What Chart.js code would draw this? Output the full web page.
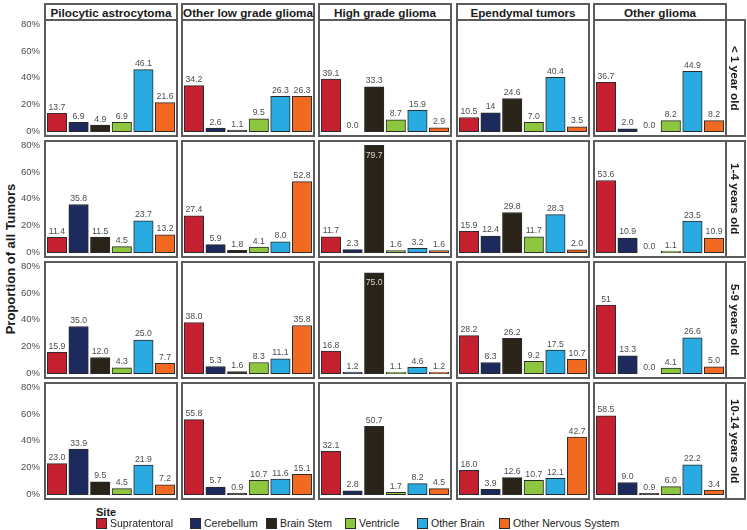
<!DOCTYPE html>
<html>
<head>
<meta charset="utf-8">
<script src="https://cdn.jsdelivr.net/npm/chart.js@4.4.0/dist/chart.umd.min.js"></script>
<style>
  body { margin: 0; background: #fff; font-family: "Liberation Sans", Arial, sans-serif; }
  #wrap { position: relative; width: 747px; height: 530px; overflow: hidden; }
  canvas { position: absolute; }
  .box { position: absolute; box-sizing: border-box; border: 2px solid #5b5b5b; }
  .head { display: flex; align-items: center; justify-content: center; font-weight: bold; font-size: 11.7px; color: #1a1a1a; background: #fff; }
  .side { display: flex; align-items: center; justify-content: center; font-weight: bold; font-size: 11.7px; color: #1a1a1a; writing-mode: vertical-rl; }
  #ytitle { position: absolute; left: 10px; top: 259px; transform: translate(-50%, -50%) rotate(-90deg); font-weight: bold; font-size: 13px; white-space: nowrap; color: #1a1a1a; }
  #legTitle { position: absolute; left: 96px; top: 506px; font-weight: bold; font-size: 11px; color: #1a1a1a; }
  .leg { position: absolute; top: 518px; font-size: 10.5px; color: #222; white-space: nowrap; line-height: 11px; }
  .leg span.sw { display: inline-block; width: 11px; height: 11px; box-sizing: border-box; border: 1px solid #2b2b2b; vertical-align: top; margin-right: 3px; }
</style>
</head>
<body>
<div id="wrap">
  <div id="ytitle">Proportion of all Tumors</div>
  <div id="legTitle">Site</div>
</div>
<script>
// categories
const sites = ["Supratentoral", "Cerebellum", "Brain Stem", "Ventricle", "Other Brain", "Other Nervous System"];
const siteColors = ["#c4202f", "#1c2a5e", "#2a2318", "#8dc63f", "#29abe2", "#f26a22"];
const tumorTypes = ["Pilocytic astrocytoma", "Other low grade glioma", "High grade glioma", "Ependymal tumors", "Other glioma"];
const ageGroups = ["< 1 year old", "1-4 years old", "5-9 years old", "10-14 years old"];
const yTicks = [0, 20, 40, 60, 80];

// printed percentages, one row per age group, one entry per site
const pilocytic = [
  ["13.7", "6.9", "4.9", "6.9", "46.1", "21.6"],
  ["11.4", "35.8", "11.5", "4.5", "23.7", "13.2"],
  ["15.9", "35.0", "12.0", "4.3", "25.0", "7.7"],
  ["23.0", "33.9", "9.5", "4.5", "21.9", "7.2"]
];
const otherLowGrade = [
  ["34.2", "2.6", "1.1", "9.5", "26.3", "26.3"],
  ["27.4", "5.9", "1.8", "4.1", "8.0", "52.8"],
  ["38.0", "5.3", "1.6", "8.3", "11.1", "35.8"],
  ["55.8", "5.7", "0.9", "10.7", "11.6", "15.1"]
];
const highGrade = [
  ["39.1", "0.0", "33.3", "8.7", "15.9", "2.9"],
  ["11.7", "2.3", "79.7", "1.6", "3.2", "1.6"],
  ["16.8", "1.2", "75.0", "1.1", "4.6", "1.2"],
  ["32.1", "2.8", "50.7", "1.7", "8.2", "4.5"]
];
const ependymal = [
  ["10.5", "14", "24.6", "7.0", "40.4", "3.5"],
  ["15.9", "12.4", "29.8", "11.7", "28.3", "2.0"],
  ["28.2", "8.3", "26.2", "9.2", "17.5", "10.7"],
  ["18.0", "3.9", "12.6", "10.7", "12.1", "42.7"]
];
const otherGlioma = [
  ["36.7", "2.0", "0.0", "8.2", "44.9", "8.2"],
  ["53.6", "10.9", "0.0", "1.1", "23.5", "10.9"],
  ["51", "13.3", "0.0", "4.1", "26.6", "5.0"],
  ["58.5", "9.0", "0.9", "6.0", "22.2", "3.4"]
];
const panels = [pilocytic, otherLowGrade, highGrade, ependymal, otherGlioma];

// layout
const colLeft = [44, 181, 318, 456, 593];
const colWidth = 134;
const rowTop = [19, 140, 261, 382];
const rowHeight = 118;

Chart.defaults.font.family = "'Liberation Sans', Arial, sans-serif";

const wrap = document.getElementById("wrap");

function addBox(cls, left, top, width, height, text) {
  const d = document.createElement("div");
  d.className = "box " + cls;
  d.style.left = left + "px";
  d.style.top = top + "px";
  d.style.width = width + "px";
  d.style.height = height + "px";
  if (text) d.textContent = text;
  wrap.appendChild(d);
  return d;
}

// labels above bars (inside the bar when it reaches the top)
const valueLabels = {
  id: "valueLabels",
  afterDatasetsDraw(chart) {
    const ctx = chart.ctx;
    const ds = chart.data.datasets[0];
    ctx.save();
    ctx.font = "8.7px 'Liberation Sans'";
    ctx.textAlign = "center";
    chart.getDatasetMeta(0).data.forEach((bar, i) => {
      const v = ds.data[i].y;
      if (v > 70) {
        ctx.fillStyle = "#d8d8d8";
        ctx.textBaseline = "top";
        ctx.fillText(ds.texts[i], bar.x, bar.y + 6);
      } else {
        ctx.fillStyle = "#4d4d4d";
        ctx.textBaseline = "alphabetic";
        ctx.fillText(ds.texts[i], bar.x, bar.y - 3.5);
      }
    });
    ctx.restore();
  }
};

panels.forEach((panel, c) => {
  addBox("head", colLeft[c], 3, colWidth, 18, tumorTypes[c]);
  panel.forEach((row, r) => {
    const cv = document.createElement("canvas");
    const first = c === 0;
    const left = first ? 0 : colLeft[c];
    const width = first ? colLeft[0] + colWidth : colWidth;
    cv.width = width;
    cv.height = rowHeight;
    cv.style.left = left + "px";
    cv.style.top = rowTop[r] + "px";
    wrap.appendChild(cv);

    new Chart(cv, {
      type: "bar",
      data: {
        datasets: [{
          data: row.map((t, i) => ({ x: i + 1, y: parseFloat(t) })),
          texts: row,
          backgroundColor: siteColors,
          borderColor: "#2b2b2b",
          borderWidth: 1,
          borderSkipped: false,
          barThickness: colWidth / 6.2 * 0.9
        }]
      },
      options: {
        responsive: false,
        animation: false,
        events: [],
        layout: { padding: 0 },
        plugins: { legend: { display: false }, tooltip: { enabled: false } },
        scales: {
          x: { type: "linear", min: 0.4, max: 6.6, offset: false, display: false },
          y: {
            min: -3.98,
            max: 83.7,
            display: first,
            grid: { display: false, drawTicks: false },
            border: { display: false },
            ticks: { padding: 4, color: "#4d4d4d", font: { size: 9.5 }, callback: v => v + "%" },
            afterBuildTicks: s => { s.ticks = yTicks.map(v => ({ value: v })); },
            afterFit: s => {
              if (!first) return;
              s.width = colLeft[0];
              s.paddingTop = 0;
              s.paddingBottom = 0;
            }
          }
        }
      },
      plugins: [valueLabels]
    });

    addBox("frame", colLeft[c], rowTop[r], colWidth, rowHeight);
  });
});

ageGroups.forEach((g, r) => {
  addBox("side", 725, rowTop[r], 21, rowHeight, g);
});

// legend
const legX = [96, 190, 266, 345, 417, 499];
sites.forEach((s, i) => {
  const d = document.createElement("div");
  d.className = "leg";
  d.style.left = legX[i] + "px";
  d.innerHTML = '<span class="sw" style="background:' + siteColors[i] + '"></span>' + s;
  wrap.appendChild(d);
});
</script>
</body>
</html>
